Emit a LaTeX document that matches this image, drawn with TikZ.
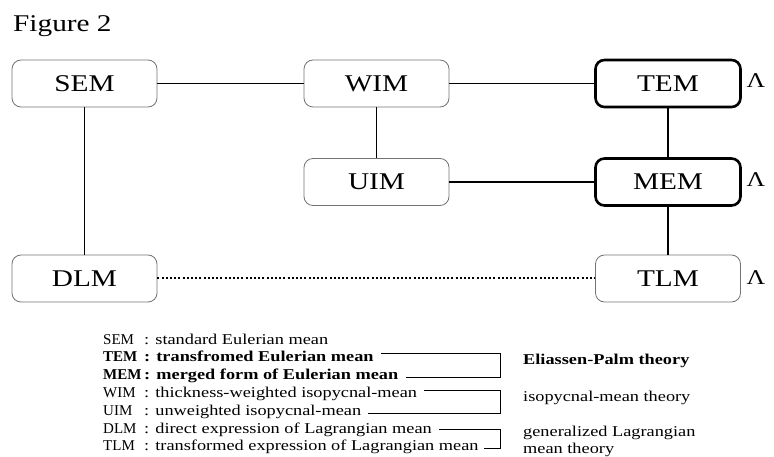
\documentclass[tikz,border=0pt]{standalone}
\usepackage{fontspec}
\setmainfont[FakeStretch=1.22]{Liberation Serif}
\newfontfamily\keyfont{Liberation Serif}
\newcommand{\Lam}{{\fontsize{21}{21}\selectfont Λ}}

\begin{document}
\begin{tikzpicture}[x=1pt, y=-1pt,
    meanbox/.style={draw=black!55, line width=0.8pt, rounded corners=9pt,
        minimum width=145pt, minimum height=47pt, inner sep=0pt,
        font=\fontsize{24}{24}\selectfont},
    thickbox/.style={meanbox, draw=black, line width=2.6pt},
    link/.style={line width=1.5pt},
    abbr/.style={anchor=base west, inner sep=0pt, font=\fontsize{15}{16}\selectfont},
    abbrbf/.style={abbr, font=\fontsize{15}{16}\selectfont\bfseries},
    key/.style={abbr, font=\keyfont\fontsize{15}{16}\selectfont},
    keybf/.style={abbr, font=\keyfont\fontsize{15}{16}\selectfont\bfseries},
    brace/.style={line width=0.8pt}]

    \useasboundingbox (0,0) rectangle (774,457);

    \draw(13,32) node[anchor=base west, inner sep=0pt, font=\fontsize{24}{24}\selectfont] (title) {Figure 2};

    % boxes
    \draw(84.5,83.5) node[meanbox] (sem) {SEM};
    \draw(376.5,83.5) node[meanbox] (wim) {WIM};
    \draw(668,83.5) node[thickbox] (tem) {TEM};
    \draw(376.5,182) node[meanbox] (uim) {UIM};
    \draw(668,182) node[thickbox] (mem) {MEM};
    \draw(84.5,278.5) node[meanbox] (dlm) {DLM};
    \draw(668,278.5) node[meanbox] (tlm) {TLM};

    \draw(756,81) node (lamtem) {\Lam};
    \draw(756,180) node (lammem) {\Lam};
    \draw(756,278) node (lamtlm) {\Lam};

    % links
    \draw[link] (sem) -- (wim);
    \draw[link] (wim) -- (tem);
    \draw[link] (wim) -- (uim);
    \draw[link] (uim) -- (mem);
    \draw[link] (tem) -- (mem);
    \draw[link] (mem) -- (tlm);
    \draw[link] (sem) -- (dlm);
    \draw[line width=2pt, dash pattern=on 2pt off 2.2pt] (dlm) -- (tlm);

    % legend
    \draw(103,344) node[key] (semk) {SEM};
    \draw(144,344) node[abbr] (semd) {: standard Eulerian mean};
    \draw(103,361.8) node[keybf] (temk) {TEM};
    \draw(144,361.8) node[abbrbf] (temd) {: transfromed Eulerian mean};
    \draw(103,379.6) node[keybf] (memk) {MEM};
    \draw(144,379.6) node[abbrbf] (memd) {: merged form of Eulerian mean};
    \draw(103,397.4) node[key] (wimk) {WIM};
    \draw(144,397.4) node[abbr] (wimd) {: thickness-weighted isopycnal-mean};
    \draw(103,415.2) node[key] (uimk) {UIM};
    \draw(144,415.2) node[abbr] (uimd) {: unweighted isopycnal-mean};
    \draw(103,433) node[key] (dlmk) {DLM};
    \draw(144,433) node[abbr] (dlmd) {: direct expression of Lagrangian mean};
    \draw(103,450.8) node[key] (tlmk) {TLM};
    \draw(144,450.8) node[abbr] (tlmd) {: transformed expression of Lagrangian mean};

    \coordinate (brk) at (500,0);
    \draw[brace] ([xshift=7pt,yshift=8pt]temd.base east) -| ([yshift=2pt]brk |- memd.base east) -- ([xshift=7pt,yshift=2pt]memd.base east);
    \draw[brace] ([xshift=7pt,yshift=7pt]wimd.base east) -| ([yshift=2pt]brk |- uimd.base east) -- ([xshift=7pt,yshift=2pt]uimd.base east);
    \draw[brace] ([xshift=7pt,yshift=4pt]dlmd.base east) -| ([yshift=2pt]brk |- tlmd.base east) -- ([xshift=5pt,yshift=2pt]tlmd.base east);

    \draw(523,364) node[abbrbf] (ep) {Eliassen-Palm theory};
    \draw(523,401.5) node[abbr] (iso) {isopycnal-mean theory};
    \draw(523,436) node[abbr] (glm) {generalized Lagrangian};
    \draw(523,453.5) node[abbr] (glmb) {mean theory};

\end{tikzpicture}
\end{document}
